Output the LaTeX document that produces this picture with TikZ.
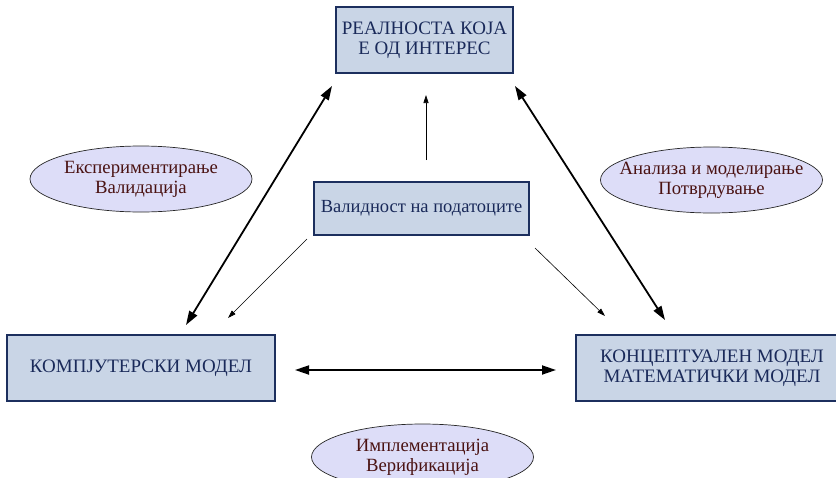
\documentclass[tikz,border=0pt]{standalone}
\usepackage{fontspec}
\setmainfont{Liberation Serif}
\usetikzlibrary{arrows.meta,shapes.geometric}

\definecolor{boxfill}{HTML}{C9D5E6}
\definecolor{boxline}{HTML}{1C2F5E}
\definecolor{boxtext}{HTML}{1A2A5A}
\definecolor{ovalfill}{HTML}{DDDDF8}
\definecolor{ovaltext}{HTML}{4A1212}

\begin{document}
\begin{tikzpicture}[x=1pt,y=-1pt,
    box/.style={draw=boxline, fill=boxfill, line width=1.5pt, text=boxtext,
      align=center, inner sep=0pt, font=\fontsize{19}{20.5}\selectfont},
    oval/.style={ellipse, draw=black!85, fill=ovalfill, line width=0.7pt,
      text=ovaltext, align=center, inner xsep=-30pt, inner ysep=0pt,
      minimum width=222pt, minimum height=66pt,
      font=\fontsize{18.7}{20}\selectfont},
    dblarrow/.style={{Triangle[length=14pt,width=9pt]}-{Triangle[length=14pt,width=9pt]},
      line width=1.8pt},
    thinarrow/.style={-{Triangle[length=8pt,width=5pt]}, line width=0.6pt}]
    \useasboundingbox (0,0) rectangle (836,477);
    \clip (0,0) rectangle (836,477);

    % boxes
    \node[box, minimum width=177pt, minimum height=66pt] (real) at (424.5,40)
        {РЕАЛНОСТА КОЈА\\Е ОД ИНТЕРЕС};
    \node[box, minimum width=215pt, minimum height=53pt,
        font=\fontsize{18.5}{19}\selectfont] (valid) at (421.5,208.5)
        {Валидност на податоците};
    \node[box, minimum width=268pt, minimum height=66pt] (komp) at (141,368)
        {КОМПЈУТЕРСКИ МОДЕЛ};
    \node[box, minimum width=272pt, minimum height=66pt] (konc) at (712,368)
        {КОНЦЕПТУАЛЕН МОДЕЛ\\МАТЕМАТИЧКИ МОДЕЛ};

    % ovals
    \node[oval] (eksp) at (141,179) {Експериментирање\\Валидација};
    \node[oval] (anal) at (711.5,180) {Анализа и моделирање\\Потврдување};
    \node[oval] (impl) at (422.5,457) {Имплементација\\Верификација};

    % arrow ends
    \coordinate (k1) at (186,325);
    \coordinate (r1) at (332,86);
    \coordinate (r2) at (515,86);
    \coordinate (c1) at (665,320);
    \coordinate (k2) at (295,370);
    \coordinate (c2) at (556,370);
    \coordinate (v0) at (426,160);
    \coordinate (v1) at (426,95);
    \coordinate (v2) at (307,239);
    \coordinate (v3) at (228,318);
    \coordinate (v4) at (535,248);
    \coordinate (v5) at (605,316);

    \draw[dblarrow] (k1) -- (r1);
    \draw[dblarrow] (r2) -- (c1);
    \draw[dblarrow] (k2) -- (c2);

    \draw[thinarrow] (v0) -- (v1);
    \draw[thinarrow] (v2) -- (v3);
    \draw[thinarrow] (v4) -- (v5);

\end{tikzpicture}
\end{document}
